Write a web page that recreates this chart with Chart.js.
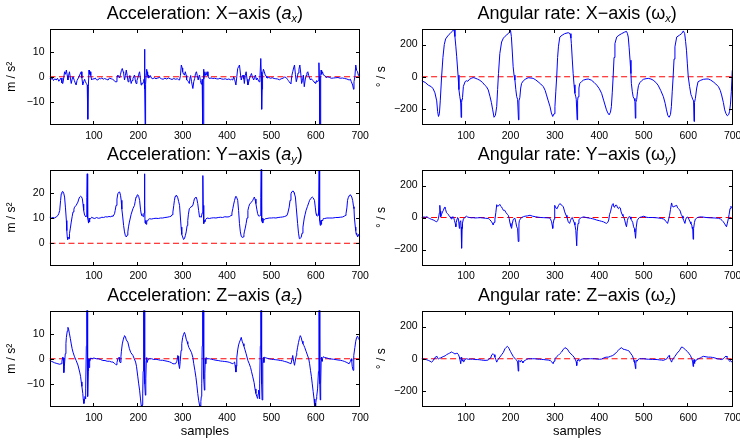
<!DOCTYPE html>
<html><head><meta charset="utf-8">
<script src="https://cdn.jsdelivr.net/npm/chart.js@4/dist/chart.umd.min.js"></script>
<style>
html,body{margin:0;padding:0;background:#fff;}
#wrap{position:relative;width:740px;height:441px;overflow:hidden;font-family:"Liberation Sans",Arial,Helvetica,sans-serif;}
canvas{position:absolute;}
.ttl{position:absolute;font-size:18px;line-height:18px;white-space:nowrap;transform:translateX(-50%);color:#000;}
.ttl sub{font-size:11px;line-height:0;vertical-align:-3px;font-style:italic;}
</style></head>
<body><div id="wrap"></div>
<script>
// ---- tick labels ----
const xTicks = [100,200,300,400,500,600,700];
const accTicks = [-10,0,10];
const accYTicks = [0,10,20];
const gyroTicks = [-200,0,200];
const zeroLine = [[0,0],[700,0]];

// ---- series: [sample, value] ----
const axData = [[0,-0.7],[3,-1.2],[6,-0.5],[9,-1.5],[12,-0.8],[15,-1.3],[18,-0.6],[21,-1.8],[23,-1.3],[26,-0.5],[28,-2.5],[30,-2.7],[32,-0.5],[34,2],[36,1],[38,2.7],[40,0.5],[41.5,-1.3],[43,0.5],[45,2],[47,-0.5],[49,-2.7],[51,-1],[53,0],[56,-1.5],[58,-2.5],[60,-3.3],[62,-1.5],[65,-0.5],[68,0.7],[70,1.5],[71.5,2],[73,-0.5],[75,-3.3],[77,-2],[79,-1],[81,-2],[83,-2.7],[85,-3.3],[86,-8],[86.5,-17],[87.5,-4],[89,2.7],[90,1],[92,2],[93,0.5],[95,-1.3],[98,-0.7],[100,-1],[103,-0.5],[106,-1.2],[109,-1.3],[112,-0.6],[115,-0.8],[118,-0.5],[121,-1],[124,-0.7],[128,-1],[132,-1.3],[135,-0.5],[139,-0.8],[142,-1],[146,-1.5],[148,-2],[150,-2],[152,-0.5],[154,0.7],[156,0],[158,-0.5],[160,1],[162,2.5],[164,3.3],[166,2],[167,1.5],[169,-1.3],[171,0.5],[173,2.7],[175,0.5],[177,-2],[179,-1],[181,0.5],[184,-2.7],[186,-1.5],[188,-0.7],[191.5,0.7],[193,-1],[195,-2.7],[197,-1.5],[199,-0.5],[201,1],[203,2],[205,-1],[206.5,-3.3],[208,-2.5],[210,-2.7],[212,-2],[213,-1],[214,11],[215,-5],[215.5,-19.5],[216,-19.5],[217,-3],[218,1.3],[219,3],[220,0.5],[221,2],[222,-0.5],[223,0.7],[225,-0.3],[227,0.5],[230,-0.6],[233,-0.8],[236,-0.4],[240,-0.8],[244,-0.5],[248,-0.3],[252,-0.8],[256,-1],[260,-0.6],[264,-0.9],[268,-0.5],[272,-0.8],[276,-1.1],[280,-0.7],[284,-1],[288,-0.8],[291,-1.2],[293,-1.3],[295,0.5],[297,4.7],[299,3.5],[300,2],[302,1],[304,0.7],[306,2],[308,0.5],[309,-1.3],[311,-1.5],[313,-2],[315,-2.7],[317,0],[318,0.5],[320,-2],[323,-4.7],[325,-2],[327,-0.7],[329,1.3],[331,2],[333,0.5],[335,-1.3],[337,0.5],[338,0.7],[340,-1.5],[341.5,-2.7],[343,-3],[344,-1],[345,-19.5],[346,-19.5],[347,3],[348,-1],[350,2],[352,0.5],[353,0.7],[355,2],[357,0.3],[360,-0.7],[364,-0.5],[368,-0.7],[372,-0.6],[376,-0.8],[380,-0.9],[384,-0.6],[388,-0.9],[392,-1],[396,-0.8],[400,-1.1],[404,-0.9],[408,-1.2],[410,-1],[413,-1.3],[415,0],[417,-1],[420,-3.3],[422,0],[424,3.3],[426,4],[428,4.7],[430,1.5],[432,-1.3],[434,0],[436,0.7],[438,-1],[439,-2.7],[441,0.5],[443,2],[445,-1],[447,-3.3],[449,-2],[451,-0.5],[453,0.5],[455,1.3],[457,0],[460,-1.3],[462,-0.3],[464,0.7],[466,-1.3],[468,-0.5],[470,-1.3],[472,-2],[474,-1],[476,7.3],[477,2],[478,-13],[479,-5],[480,1],[482,3],[484,2],[486,0.7],[488,0.3],[490,-0.5],[494,-0.3],[498,-0.6],[502,-0.4],[506,-0.7],[510,-0.8],[514,-0.9],[518,-1.2],[522,-0.8],[526,-0.6],[530,-0.1],[533,-0.3],[536,-1],[538,-1.5],[540,-2],[542,-2.5],[544,-2.7],[546,0.5],[548,2],[550,3.5],[552,4.7],[554,1],[556,-2],[558,-0.5],[560,1.5],[562,3],[564,4.7],[566,1.5],[568,-2.7],[570,-1.5],[572,0.7],[574,-4],[576,-1.3],[578,0.5],[580,1.5],[582,2],[584,0.5],[586,-0.5],[588,-1.3],[590,-0.8],[593,-1.5],[596,-2],[598,-2.5],[600,-2.7],[602,-1.5],[604,-2],[606,-1.5],[607,5.6],[608,0],[609,-19.5],[610,-19.5],[611,0.5],[612,2.7],[613,1],[615,2],[617,0.7],[620,0.5],[623,-0.3],[627,0],[631,-0.3],[635,-0.6],[640,-0.5],[645,-0.4],[650,-0.3],[655,-0.6],[660,-0.5],[665,-0.7],[670,-0.9],[675,-1.3],[678,-1],[680,-2],[683,-3.3],[685,-5],[686,-2],[688,0],[690,4.7],[692,2.5],[694,2],[696,0.5],[698,1],[700,0.7]];

const ayData = [[0,10.3],[4,10],[8,10.2],[11,10],[15,10.4],[19,11],[21,11.8],[23,13],[25,17],[26.5,19.6],[28,20.3],[30,20.5],[32,19.8],[34,18.3],[36,14],[38,9],[39,5],[40,2.5],[41,1.5],[42,2.3],[43,2.2],[44,1.8],[45,3.8],[47,6],[49,8.4],[51,10.5],[53,12.4],[55,13.5],[56.5,14.3],[60,15],[64,16.3],[66,17.5],[68,18.3],[70,18.6],[72,18.4],[74,17.6],[75.5,15.5],[77,13],[79,11.2],[80.5,10.8],[82,10.5],[83,10.8],[84,18],[85,27.5],[85.7,20],[86.3,10],[87,9],[88,8],[89,10],[90,8.4],[91,9.5],[93,9.8],[95,10.3],[98,10],[102,9.8],[106,10.2],[110,9.9],[114,10],[118,10.3],[122,10.2],[126,10.5],[130,10.4],[134,10.6],[138,10.5],[141,10.8],[143,10.7],[145,11.2],[146.5,11.7],[148,13],[150,15],[152,17.5],[154,19.6],[156,20.2],[158,20.3],[160,19],[161.5,17],[163,13.5],[165,10.4],[167,7],[169,4.5],[171,3],[173,2.5],[175,3.2],[176.5,4.5],[178,6.5],[180,8.4],[184,11.5],[188,13.7],[191.5,15],[193,16.5],[195,18.3],[197,19],[199,19.2],[201,18.5],[203,17],[205,13.5],[206.5,11.7],[208,11],[210,10.8],[212,10.5],[213,12],[214,27.5],[214.7,15],[215.3,8],[216,7.8],[217,9],[218,7.5],[219,9],[221,8.8],[223,9.5],[225,9.7],[230,9.6],[235,9.8],[240,9.9],[245,9.8],[250,10],[255,10],[260,10.2],[265,10.3],[270,10.5],[274,10.7],[276,11.3],[278,12.4],[280,15],[281.5,17],[283,18.5],[285,19],[287,18.8],[289,18],[291,16.5],[293,15],[295,10],[296.5,6.4],[298,3.5],[300,2.5],[302,1.5],[304,1.8],[306,3],[308,4.5],[310,7],[311.5,9],[313,11.5],[315,13.7],[317,14],[319,14.5],[321,14.8],[323,15],[325,16.5],[326.5,17.6],[328,18],[330,18.3],[332,17.5],[334,15.7],[336,13],[338,10.4],[340,10.5],[342,10.3],[344,12],[345.5,26.8],[346.3,15],[347,8],[348,7.8],[349,9],[350,8.5],[352,9.5],[355,10],[360,9.8],[365,10],[370,10.1],[375,10],[380,10.2],[385,10.3],[390,10.2],[395,10.5],[400,10.4],[405,10.5],[409,11],[411,12],[413,13.7],[415,15.5],[417,17],[419,18.3],[420,18.6],[422,18],[424,17],[426,13],[428,7.8],[430,4.5],[432,2.8],[434,2.3],[436,2.5],[438,3.5],[439,4.5],[441,6],[443,7.8],[445,10],[447,13],[449,14.5],[451,15.5],[455,16.3],[458,17],[460,17.8],[461.5,18.3],[463,17.5],[465,15.7],[467,13.5],[469,11.7],[471,10.8],[473,10.8],[475,11],[476,18],[477,30],[477.7,20],[478.3,9],[479,8.4],[480,10],[481,8],[482,9.5],[484,9.3],[486,9.7],[490,9.8],[495,10],[500,10],[505,10.1],[510,10],[515,10.2],[520,10.3],[525,10.4],[530,10.6],[535,11],[537,12],[540,14.3],[542,17],[544,19.6],[546,20.4],[549,20.7],[551,20],[552,19.5],[554,18.3],[556,14],[559,7.8],[561,4],[563,1.8],[565,2],[567,2.3],[569,4],[571,6.4],[574,10],[576,11.5],[578,13],[581,14.5],[584,16],[586,17],[589,17.8],[592,18.3],[594,18],[597,17],[599,14],[600.5,11.7],[602,11],[604,10.8],[606,11],[607.5,28.8],[608.3,18],[609,9],[610,7.1],[611,9],[612,7.5],[613,9.2],[615,8.8],[617,9.8],[620,9.8],[625,10],[630,10],[638,10],[645,10.2],[650,10.2],[655,10.3],[660,10.4],[664,10.7],[666,11],[668,11.7],[670,14],[671.5,17],[673,18],[675,18.8],[677,19.2],[679,19],[681,18.3],[683,17],[685,14.5],[686,13.7],[687,10],[689,6.4],[690,5],[691,3.5],[692,4],[693,3],[694,2.5],[695,2.8],[696,3.5],[698,2.8],[700,2.7]];

const azData = [[0,-0.7],[4,-1],[8,-1.3],[11.5,-1.6],[15,-1.8],[19,-2],[23,-2.2],[26,-2],[28,-1],[30,0.7],[31,0.3],[32,-2],[32.5,-5.5],[33.5,-3],[35.5,2],[37,6],[38,8.5],[40,11],[41.5,12.5],[43,11.8],[45,9.9],[47,8],[49,5.9],[51,4],[53,2.6],[56,1],[60,-0.7],[64,-2.5],[68,-5.3],[70,-7],[71.5,-9.2],[73,-11],[75,-13.8],[76,-16],[77.5,-17.8],[78.5,-17],[80,-15],[81,-16],[82,-12],[83,5],[84,20],[84.5,20],[85.2,5],[86,-12],[86.5,-15],[87.5,-5],[88,0],[89,-3.5],[90,0],[91,-1],[93,0.3],[96,0],[100,0.3],[105,0],[110,0],[115,-0.3],[120,-0.7],[125,-0.7],[130,-1],[135,-1],[140,-1.3],[143,-1.3],[146,-1.8],[148,-2],[150,-2.4],[152,-1.5],[154,0],[156,0.5],[157,0.5],[158,-1],[159,-1.5],[161,1],[162,3],[164,5.9],[166,7.5],[168,8.8],[169,9.2],[171,8.8],[173,7.5],[176.5,6.6],[180,4],[183,2.5],[188,1.3],[191,0],[194,-1.3],[196,-3],[199,-7.2],[201,-10],[203,-12.5],[205,-16],[206.5,-18.4],[208,-19.5],[209,-18.4],[210,-14],[211,-5],[212,20],[213,20],[214,0],[215,-10],[216,-14.5],[217,-8],[218,-1],[219,0.5],[220,-1.5],[222,-0.3],[225,0],[230,0],[235,-0.3],[240,-0.2],[245,-0.4],[250,-0.6],[255,-0.6],[260,-0.8],[265,-1],[270,-1.2],[275,-1.6],[278,-2],[281,-2],[284,-2],[287,-1],[289,1.3],[290,1],[291,-2],[293,-3.9],[294.5,-1],[296.5,3.3],[298,6],[300,8.5],[302,9.7],[304,10.5],[306,9.5],[308,7.8],[310,6.8],[311.5,5.9],[314,4.5],[317,3.5],[320,2.4],[323,0.5],[325,-2],[327.5,-4.6],[330,-7.5],[332,-10.5],[334,-13.8],[336,-16.5],[338,-18.4],[339,-19.5],[340,-19.5],[341,-17],[342,-15],[343,-10],[344,5],[345,20],[346,20],[347,0],[348,-8],[349,-12.5],[350,-6],[351,0],[352,-2],[353,0.5],[355,0],[360,0],[365,-0.2],[370,-0.4],[375,-0.6],[380,-0.7],[385,-0.9],[390,-1],[395,-1.1],[400,-1.2],[405,-1.4],[409,-1.7],[413,-2],[415,-1.6],[417,-1.3],[418,-2.5],[420,-5.3],[421,-3],[422,0.5],[424,3.5],[426,5.5],[428,6.6],[430,7.5],[432,8.5],[434,7],[436,6],[438,5],[440,3.8],[443,2],[447,-0.7],[450,-2],[453,-3.5],[455,-5],[458,-7.2],[461,-9.5],[463,-12],[465,-13.8],[467,-15],[469,-15.8],[470,-14],[471,-12.5],[472,-13],[473,-16],[474,-10],[475,5],[476,20],[477,20],[477.5,5],[478.3,-10],[479,-16.4],[480,-8],[481,-1],[482,0.5],[483,-1.5],[484,0.6],[487,0.4],[490,0.2],[495,0],[500,-0.2],[505,-0.3],[510,-0.4],[515,-0.5],[520,-0.7],[525,-0.8],[530,-1.1],[535,-1.3],[540,-1.7],[544,-2],[546,-0.5],[548,1.3],[550,-1],[552,-2.6],[554,-0.5],[556,1.3],[557,2.5],[559,4.6],[561,6.5],[563,8],[565,9.2],[567,8.5],[569,7],[571,6],[573,5.3],[575,4.5],[578,3],[581,1.5],[584,0],[586,-2],[588,-4.6],[590,-7],[592,-10],[594,-13],[596,-16],[597,-18.4],[598,-19.5],[599,-19.5],[600,-17.5],[601,-16],[602,-15],[604,-12],[606,-5],[607,20],[608,20],[608.7,0],[609.3,-10],[610,-16.4],[611,-10],[612,-1],[613,0.7],[614,-1],[615,0],[617,0.8],[620,0.5],[625,0.3],[630,0],[640,-0.2],[650,-0.5],[655,-0.6],[660,-0.8],[665,-1.1],[670,-1.5],[675,-2],[678,-1],[680,0],[681,-1],[682,-3],[684,-4.6],[685,-2],[686,1.3],[688,4.5],[690,7],[692,8.5],[694,9],[696,8],[698,7.5],[700,7.2]];

const gxData = [[0,-25],[8,-35],[15,-52],[22,-62],[26,-75],[30,-100],[34,-150],[36,-215],[38,-247],[40,-230],[42,-150],[45,0],[48,120],[51,200],[54,235],[60,258],[64,268],[68,280],[71,290],[73,292],[75,250],[77,190],[79,124],[82,10],[84,-80],[86,-124],[87,-140],[88,-160],[89,-253],[90,-160],[91,-140],[92,-130],[94,-60],[96,-45],[98,-30],[101,-25],[104,-28],[108,-15],[112,-10],[116,-5],[120,-8],[126,-15],[131,-22],[137,-35],[142,-52],[146,-62],[150,-82],[154,-124],[157,-160],[160,-206],[163,-252],[166,-240],[169,-186],[171,-80],[173,20],[176,144],[180,216],[184,240],[188,252],[192,262],[195,268],[199,282],[200,289],[202,250],[204,160],[206,62],[208,10],[210,-21],[212,-80],[214,-124],[216,-140],[218,-268],[219,-150],[221,-130],[223,-70],[225,-41],[229,-25],[233,-16],[240,-6],[246,-8],[251,-10],[257,-20],[262,-31],[268,-45],[274,-62],[278,-85],[281,-113],[285,-150],[289,-186],[292,-225],[295,-247],[298,-230],[300,-186],[302,-90],[304,0],[306,120],[308,190],[311,247],[316,258],[322,268],[330,274],[334,268],[336,240],[337,206],[339,110],[341,21],[343,-50],[345,-103],[347,-125],[348,-140],[350,-268],[351,-150],[352,-125],[354,-70],[356,-41],[360,-30],[364,-21],[370,-16],[375,-14],[382,-21],[388,-35],[394,-52],[400,-75],[405,-103],[410,-150],[416,-206],[419,-225],[422,-237],[425,-220],[427,-186],[429,-100],[431,0],[433,120],[435,206],[439,247],[444,258],[450,268],[457,278],[461,282],[463,270],[465,247],[467,180],[469,103],[471,20],[472,-41],[474,-90],[476,-124],[478,-135],[480,-150],[481,-258],[482,-160],[484,-140],[486,-90],[488,-55],[491,-37],[495,-25],[499,-16],[505,-12],[510,-10],[516,-14],[521,-21],[527,-35],[532,-52],[538,-85],[544,-124],[548,-165],[551,-206],[554,-240],[557,-252],[560,-235],[562,-186],[564,-90],[566,0],[568,110],[570,186],[574,247],[580,258],[585,268],[589,285],[592,268],[594,220],[596,165],[598,80],[600,0],[603,-60],[606,-110],[608,-124],[610,-140],[612,-150],[613,-278],[614,-160],[616,-135],[619,-70],[622,-31],[628,-22],[634,-16],[640,-14],[645,-14],[650,-20],[656,-31],[662,-45],[668,-62],[672,-85],[675,-113],[679,-160],[682,-206],[685,-230],[688,-243],[691,-235],[693,-215],[695,-170],[697,-90],[699,40],[700,124]];

const gyData = [[0,0],[5,3],[9,2],[12,5],[15,-2],[18,-6],[22.5,-12],[26,-15],[30,-21],[32,-25],[34,-27],[36,-20],[38,-5],[40,30],[41,76],[42,40],[43,5],[45,20],[47,35],[49,45],[51,60],[52.5,66],[54,50],[56,30],[58,25],[60,20],[62,10],[64,4],[66,-5],[68,-10],[70,5],[72,2],[74,-20],[76,-40],[77,-58],[78,-30],[80,-8],[81,0],[83,-10],[85,-68],[86,-30],[88,-20],[89,-60],[90,-192],[91,-70],[92,-35],[94,-10],[97,0],[101,8],[104,2],[108,0],[112,-2],[116,-1],[120,-3],[126,-2],[132,-1],[138,-3],[144,-5],[150,-6],[153,-12],[157.5,-27],[160,-40],[161,-47],[163,-30],[165,-10],[167,30],[169,80],[171,70],[174,75],[176,82],[178,70],[180,66],[182,55],[184,45],[187,45],[190,30],[193,20],[195,14],[197,-5],[199,-37],[201,-55],[202.5,-68],[204,-40],[206,-15],[208,-6],[210,-5],[212,-30],[214,-58],[216,-70],[217.5,-150],[219,-40],[220,-20],[222,-10],[225,0],[229,5],[232.5,8],[238,10],[244,14],[250,8],[256,5],[262,2],[268,0],[275,-1],[282,-2],[288,-3],[290,-10],[292.5,-27],[294,-50],[295,-68],[296,-40],[298,-10],[299,40],[300,76],[302,60],[305,55],[308,75],[311,87],[314,80],[316,76],[319,66],[322,35],[325,14],[327,3],[330,-27],[333,-37],[335,-20],[337,-5],[339,0],[341,-15],[343,-30],[345,-47],[347,-80],[349,-177],[350,-90],[352,-37],[354,-15],[356,-6],[360,0],[365,4],[370,0],[375,-3],[380,-5],[385,-8],[390,-12],[394,-16],[400,-20],[405,-24],[409,-27],[413,-33],[416,-37],[419,-30],[421,-16],[423,20],[425,35],[427,60],[429,80],[431,87],[433,65],[435,70],[437,78],[439,76],[441,60],[443,55],[445,65],[447,60],[449,35],[451,20],[453,10],[455,2],[457,-16],[459,-40],[461,-58],[463,-20],[465,0],[467,5],[469,4],[471,-10],[473,-20],[475,-30],[477,-58],[479,-70],[480,-90],[481.5,-130],[483,-60],[485,-20],[487,-10],[490,0],[495,4],[500,8],[505,2],[510,0],[520,0],[530,-2],[540,-6],[545,-10],[547.5,-16],[550,-25],[553.5,-37],[556,-10],[558,14],[560,50],[562.5,91],[564,75],[566,65],[568,70],[570,72],[572,74],[574,76],[576,60],[578,55],[580,50],[582,40],[584,20],[586,10],[588,-5],[590,-20],[592.5,-37],[594,-15],[596,0],[598,2],[600,0],[602,-15],[604,-27],[606,-40],[608,-47],[609,-70],[610,-60],[611,-136],[612,-70],[614,-30],[616,-10],[618,-6],[621,0],[625,3],[630,4],[640,0],[650,-2],[660,-3],[668,-5],[673,-10],[676,-18],[679,-27],[682,-40],[686,-58],[688,-35],[690,-10],[692,20],[694,56],[696,70],[698,62],[700,56]];

const gzData = [[0,0],[5,-2],[10,-5],[15,-10],[19,-15],[22.5,-21],[26,-12],[28,0],[30,8],[32,10],[34,17],[36,5],[38,-2],[40,3],[43,5],[46,10],[50,15],[53,18],[56,25],[60,31],[63,35],[67.5,42],[70,38],[72,35],[75,30],[78,33],[80,35],[83,25],[85,10],[86,0],[88,-31],[89,-10],[90,10],[91,-5],[93,-15],[95,-20],[97,-5],[101,0],[105,-3],[110,-3],[115,-2],[120,-5],[125,-5],[130,-6],[135,-8],[140,-10],[145,-10],[150,-8],[152,-2],[154,5],[156,10],[158,25],[161,31],[163,25],[165,10],[167,-5],[169,-21],[171,-10],[173,0],[176,10],[180,25],[184,40],[187.5,62],[190,70],[193,77],[195,72],[197,62],[200,45],[203,30],[206,15],[209,5],[212,-5],[214,-10],[216,-20],[217.5,-77],[218,-30],[219,-10],[220,-15],[222,-20],[224,-10],[226,-15],[228,-25],[230,-15],[233,-10],[236,-5],[240,0],[245,0],[250,0],[255,0],[260,-2],[265,-3],[270,-4],[275,-5],[280,-7],[285,-8],[290,-12],[293,-20],[296,-31],[298,-15],[300,0],[303,10],[307,20],[311,31],[315,42],[318,55],[322.5,69],[325,65],[328,60],[332,42],[336,30],[340,20],[343,10],[346,-5],[348,-20],[349,-42],[350,-15],[352,-5],[354,-10],[356,-15],[358,-5],[361,-2],[365,0],[370,-1],[375,0],[380,0],[385,0],[390,0],[395,-2],[400,-3],[405,-2],[410,5],[415,10],[420,10],[425,15],[430,20],[435,30],[439,42],[442,50],[445,60],[450,69],[453,60],[456,58],[460,55],[463,52],[466,50],[470,35],[474,20],[477,0],[478,-20],[479,-10],[480,-25],[481.5,-62],[482,-30],[483,-10],[485,-15],[487,-5],[490,0],[495,0],[500,0],[505,-2],[510,-3],[520,-4],[530,-5],[535,-7],[540,-8],[544,-10],[548,-5],[552,0],[555,15],[557,20],[558,10],[560,-5],[562.5,-21],[564,-10],[566,0],[570,15],[575,35],[580,50],[585,73],[588,70],[590,65],[594,55],[598,45],[601,35],[605,20],[608,0],[610,-20],[611,-48],[612,-15],[613,-5],[614,-30],[615,-20],[617,-10],[620,-5],[623,0],[627,5],[630,10],[634,15],[640,12],[645,10],[650,10],[655,8],[660,5],[665,0],[670,-2],[675,-5],[679,0],[682,10],[685,17],[687,10],[689,0],[691,-10],[693,-15],[695,-10],[697.5,-21],[699,-15],[700,-18]];

// ---- panels ----
const panels = [
  {row:0,col:0,data:axData,ticks:accTicks,min:-19.3,max:19.3,ylabel:'m / s²',title:'Acceleration: X\u2212axis (<i>a</i><sub>x</sub>)'},
  {row:0,col:1,data:gxData,ticks:gyroTicks,min:-300,max:300,ylabel:'° / s',title:'Angular rate: X\u2212axis (ω<sub>x</sub>)'},
  {row:1,col:0,data:ayData,ticks:accYTicks,min:-8.8,max:29.2,ylabel:'m / s²',title:'Acceleration: Y\u2212axis (<i>a</i><sub>y</sub>)'},
  {row:1,col:1,data:gyData,ticks:gyroTicks,min:-300,max:300,ylabel:'° / s',title:'Angular rate: Y\u2212axis (ω<sub>y</sub>)'},
  {row:2,col:0,data:azData,ticks:accTicks,min:-19.2,max:19.2,ylabel:'m / s²',title:'Acceleration: Z\u2212axis (<i>a</i><sub>z</sub>)'},
  {row:2,col:1,data:gzData,ticks:gyroTicks,min:-300,max:300,ylabel:'° / s',title:'Angular rate: Z\u2212axis (ω<sub>z</sub>)'}
];

const FONT = "'Liberation Sans', Arial, Helvetica, sans-serif";
const wrap = document.getElementById('wrap');

const framePlugin = {
  id:'frame',
  afterDatasetsDraw(chart){
    const {ctx, chartArea:a, scales:{x,y}} = chart;
    const L = Math.round(a.left)+0.5, R = Math.round(a.right)-0.5, T = Math.round(a.top)+0.5, B = Math.round(a.bottom)-0.5;
    const tl = 3.5;
    ctx.save();
    ctx.strokeStyle = '#000'; ctx.lineWidth = 1;
    ctx.beginPath();
    x.ticks.forEach(t=>{const px=Math.round(x.getPixelForValue(t.value))-0.5;
      ctx.moveTo(px,B); ctx.lineTo(px,B-tl); ctx.moveTo(px,T); ctx.lineTo(px,T+tl);});
    y.ticks.forEach(t=>{const py=Math.round(y.getPixelForValue(t.value))+0.5;
      ctx.moveTo(L,py); ctx.lineTo(L+tl,py); ctx.moveTo(R,py); ctx.lineTo(R-tl,py);});
    ctx.stroke();
    ctx.strokeRect(L,T,R-L,B-T);
    ctx.restore();
  }
};

const rowTop = [28.5,169.5,310.5];
const rowBottom = [125,265.5,407];

panels.forEach(p=>{
  const Lc = p.col===0 ? 0 : 370;
  const W = p.col===0 ? 400 : 370;
  const T = p.row*141;
  const H = p.row===2 ? 159 : 145;
  const areaLeft = p.col===0 ? 49.5 : 51.6;
  const areaRight = p.col===0 ? 360.2 : 362.7;
  const aTop = rowTop[p.row]-T, aBot = rowBottom[p.row]-T;
  const cv = document.createElement('canvas');
  cv.width=W; cv.height=H;
  cv.style.left=Lc+'px'; cv.style.top=T+'px'; cv.style.width=W+'px'; cv.style.height=H+'px';
  wrap.appendChild(cv);

  const t = document.createElement('div');
  t.className='ttl';
  t.innerHTML = p.title;
  t.style.left = (Lc+(areaLeft+areaRight)/2)+'px';
  t.style.top = (rowTop[p.row]-28.5+3.8)+'px';
  wrap.appendChild(t);

  new Chart(cv,{
    type:'line',
    data:{datasets:[
      {data:p.data.map(d=>({x:d[0],y:d[1]})),borderColor:'#0000ff',borderWidth:1,pointRadius:0,tension:0,order:0,fill:false},
      {data:zeroLine.map(d=>({x:d[0],y:d[1]})),borderColor:'#ff0000',borderWidth:1,borderDash:[6,3.5],pointRadius:0,order:1,fill:false}
    ]},
    options:{
      responsive:false, animation:false, devicePixelRatio:1,
      layout:{padding:{left:0,top:aTop,right:W-areaRight,bottom:0}},
      plugins:{legend:{display:false},tooltip:{enabled:false}},
      scales:{
        x:{type:'linear',min:0,max:700,
          grid:{display:false,drawTicks:false},border:{display:false},
          afterBuildTicks:s=>{s.ticks = xTicks.map(v=>({value:v}));},
          afterFit:s=>{s.height = H-aBot; s.paddingLeft=0; s.paddingRight=0;},
          ticks:{autoSkip:false,maxRotation:0,minRotation:0,padding:4.5,color:'#000',font:{family:FONT,size:10.5},callback:v=>String(v)},
          title:{display:p.row===2,text:'samples',color:'#000',font:{family:FONT,size:13},padding:{top:0,bottom:2.2}}
        },
        y:{type:'linear',min:p.min,max:p.max,
          grid:{display:false,drawTicks:false},border:{display:false},
          afterBuildTicks:s=>{s.ticks = p.ticks.map(v=>({value:v}));},
          afterFit:s=>{s.width = areaLeft; s.paddingTop=0; s.paddingBottom=0;},
          ticks:{padding:p.col===0?5:4,color:'#000',font:{family:FONT,size:10.5},callback:v=>String(v).replace('-','\u2212')},
          title:{display:true,text:p.ylabel,color:'#000',font:{family:FONT,size:12},padding:{top:4.5,bottom:0}}
        }
      }
    },
    plugins:[framePlugin]
  });
});
</script>
</body></html>
